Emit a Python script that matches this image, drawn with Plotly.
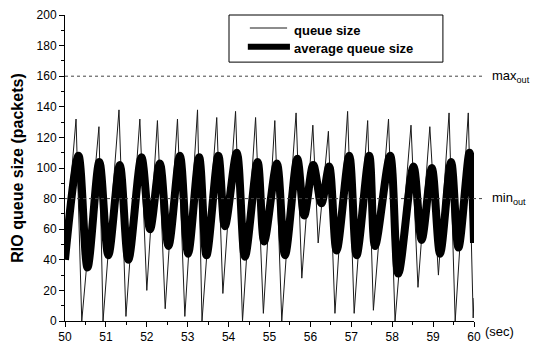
import plotly.graph_objects as go

# queue size (thin line): peak / trough points
queue_t = [50.00, 50.27, 50.41, 50.83, 50.93, 51.32, 51.49, 51.83, 52.00, 52.26, 52.45,
           52.75, 52.93, 53.24, 53.35, 53.71, 53.86, 54.17, 54.34, 54.66, 54.85, 55.13,
           55.30, 55.65, 55.79, 56.06, 56.19, 56.44, 56.60, 56.91, 57.07, 57.40, 57.54,
           57.91, 58.07, 58.46, 58.63, 58.92, 59.13, 59.39, 59.54, 59.86, 59.98, 60.00]
queue_v = [45, 132, 0, 127, 0, 138, 3, 132, 20, 131, 8,
           132, 3, 138, 0, 133, 18, 137, 0, 133, 5, 131,
           0, 136, 28, 128, 51, 124, 5, 137, 5, 131, 7,
           132, 0, 128, 22, 127, 30, 136, 0, 136, 2, 15]

# average queue size (thick line)
avg_t = [50.00, 50.33, 50.55, 50.84, 51.06, 51.34, 51.55, 51.87, 52.08, 52.32, 52.53,
         52.81, 53.01, 53.28, 53.46, 53.75, 53.91, 54.20, 54.40, 54.71, 54.87, 55.18,
         55.38, 55.68, 55.85, 56.07, 56.27, 56.46, 56.64, 56.95, 57.13, 57.44, 57.58,
         57.95, 58.15, 58.52, 58.72, 58.97, 59.17, 59.44, 59.62, 59.89, 60.00]
avg_v = [40, 108, 35, 104, 43, 102, 40, 107, 60, 103, 49,
         108, 44, 107, 43, 108, 62, 110, 42, 104, 52, 103,
         43, 106, 69, 102, 77, 101, 46, 108, 43, 108, 49,
         108, 31, 101, 53, 100, 44, 104, 48, 110, 51]

x_ticks = list(range(50, 61))
y_ticks = list(range(0, 201, 20))
max_out = 160
min_out = 80
series_names = ["queue size", "average queue size"]

FONT = "Liberation Sans, Arial, sans-serif"
THIN = dict(color="#1a1a1a", width=1)
THICK = dict(color="#000000", width=8)

fig = go.Figure()
fig.add_trace(go.Scatter(x=queue_t, y=queue_v, mode="lines", name=series_names[0],
                         line=THIN, showlegend=False))
fig.add_trace(go.Scatter(x=avg_t, y=avg_v, mode="lines", name=series_names[1],
                         line=dict(**THICK, shape="spline", smoothing=0.9), showlegend=False))

for lvl in (max_out, min_out):
    fig.add_shape(type="line", xref="paper", yref="y", x0=0, x1=1.025, y0=lvl, y1=lvl,
                  line=dict(color="#444444", width=1, dash="dot"))

fig.add_annotation(xref="paper", yref="y", x=1.04, y=max_out, text="max<sub>out</sub>",
                   showarrow=False, xanchor="left", yanchor="middle",
                   font=dict(family=FONT, size=13, color="black"))
fig.add_annotation(xref="paper", yref="y", x=1.04, y=min_out, text="min<sub>out</sub>",
                   showarrow=False, xanchor="left", yanchor="middle",
                   font=dict(family=FONT, size=13, color="black"))
fig.add_annotation(xref="paper", yref="paper", x=1.022, y=-0.033, text="(sec)",
                   showarrow=False, xanchor="left", yanchor="middle",
                   font=dict(family=FONT, size=13, color="black"))

# hand-drawn legend box (placed like the reference)
fig.add_shape(type="rect", xref="paper", yref="paper", x0=0.401, x1=0.924, y0=0.846, y1=1.0,
              line=dict(color="black", width=1), fillcolor="white", layer="above")
fig.add_shape(type="line", xref="paper", yref="paper", x0=0.452, x1=0.543, y0=0.9575, y1=0.9575,
              line=THIN, layer="above")
fig.add_shape(type="line", xref="paper", yref="paper", x0=0.447, x1=0.55, y0=0.896, y1=0.896,
              line=dict(color="black", width=6), layer="above")
for name, yy in zip(series_names, (0.950, 0.889)):
    fig.add_annotation(xref="paper", yref="paper", x=0.556, y=yy, text="<b>%s</b>" % name,
                       showarrow=False, xanchor="left", yanchor="middle",
                       font=dict(family=FONT, size=13, color="black"))

fig.update_layout(
    width=534, height=349,
    margin=dict(l=65, r=60, t=15, b=28),
    paper_bgcolor="white", plot_bgcolor="white",
    font=dict(family=FONT, size=12, color="black"),
    showlegend=False,
    xaxis=dict(range=[50, 60], tickvals=x_ticks, ticks="outside", ticklen=5,
               tickcolor="black", showline=True, linecolor="black", linewidth=1,
               showgrid=False, zeroline=False, mirror=False, automargin=False,
               minor=dict(dtick=0.5, ticks="outside", ticklen=3, tickcolor="black"),
               tickfont=dict(size=12)),
    yaxis=dict(range=[0, 200], tickvals=y_ticks, ticks="outside", ticklen=5,
               tickcolor="black", showline=True, linecolor="black", linewidth=1,
               showgrid=False, zeroline=False, mirror=False, automargin=False,
               minor=dict(dtick=10, ticks="outside", ticklen=3, tickcolor="black"),
               tickfont=dict(size=12),
               title=dict(text="<b>RIO queue size (packets)</b>", standoff=8,
                          font=dict(size=16))),
)

fig.write_html("out.html")
